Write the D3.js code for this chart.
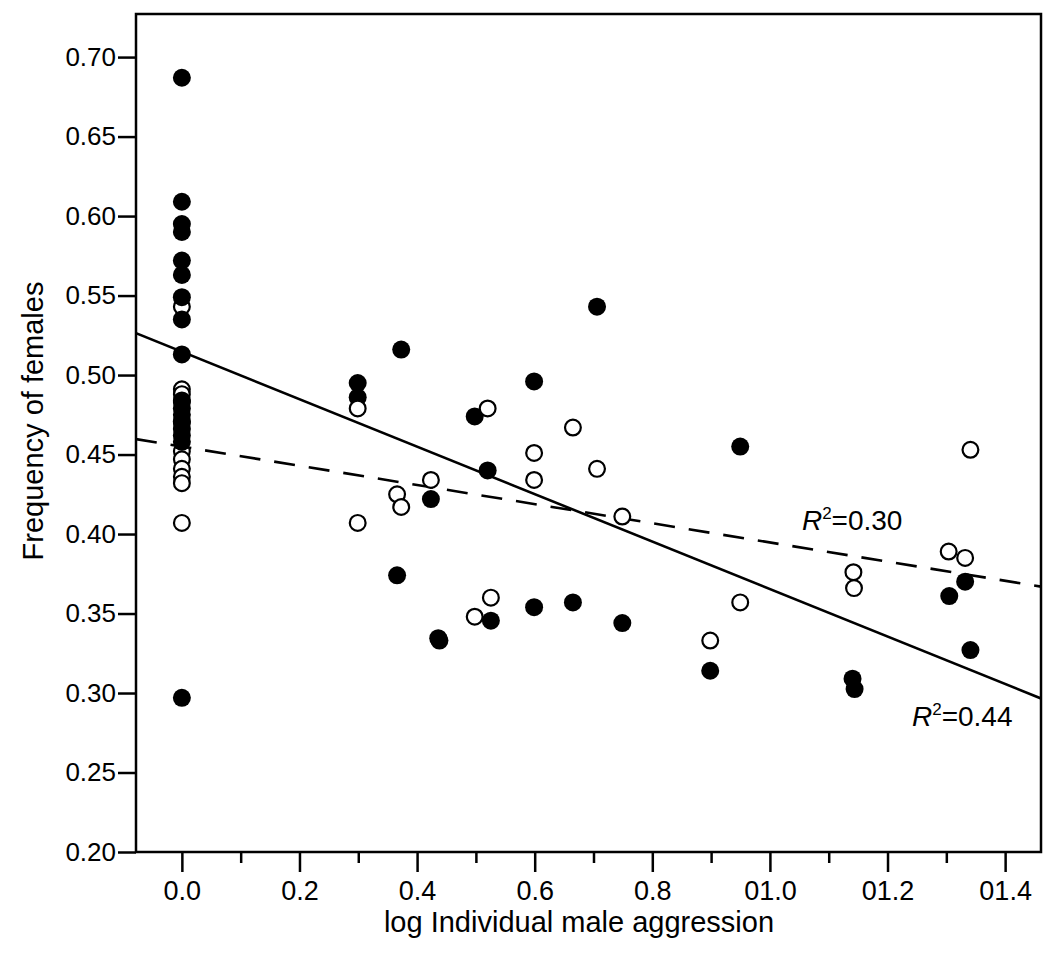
<!DOCTYPE html>
<html>
<head>
<meta charset="utf-8">
<script src="https://cdn.jsdelivr.net/npm/d3@7/dist/d3.min.js"></script>
<style>
  html, body { margin: 0; padding: 0; background: #fff; }
  svg { display: block; font-family: "Liberation Sans", Arial, sans-serif; }
</style>
</head>
<body>
<svg id="chart" width="1050" height="955"></svg>
<script>
// ---- data ----
const filledX = [0,0,0,0,0,0,0,0,0,0,0,0,0,0,0,0,0,
  0.299,0.299,0.373,0.366,0.4235,0.436,0.438,0.498,0.520,0.5255,0.599,0.599,0.665,0.706,0.749,0.8985,0.9495,1.1405,1.144,1.305,1.332,1.341];
const filledY = [0.687,0.609,0.595,0.590,0.572,0.563,0.549,0.535,0.513,0.483,0.479,0.475,0.471,0.466,0.462,0.458,0.297,
  0.495,0.486,0.516,0.374,0.422,0.3345,0.333,0.474,0.440,0.3455,0.496,0.354,0.357,0.543,0.344,0.314,0.455,0.309,0.3025,0.361,0.370,0.327];
const openX = [0,0,0,0,0,0,0,0,0,0,0,
  0.299,0.299,0.366,0.373,0.4235,0.498,0.520,0.5255,0.599,0.599,0.665,0.706,0.749,0.8985,0.9495,1.142,1.143,1.304,1.332,1.341];
const openY = [0.543,0.491,0.488,0.484,0.470,0.452,0.447,0.441,0.436,0.432,0.407,
  0.479,0.407,0.425,0.417,0.434,0.348,0.479,0.360,0.451,0.434,0.467,0.441,0.411,0.333,0.357,0.376,0.366,0.389,0.385,0.453];
// regression lines: [intercept, slope]
const fitSolid = [0.5147, -0.1493];
const fitDashed = [0.4550, -0.0603];
const fitLabels = ["0.44", "0.30"];
const fitLabelPos = [[1.2415, 0.2792], [1.0544, 0.4025]];
const xTickValues = [0.0, 0.2, 0.4, 0.6, 0.8, 1.0, 1.2, 1.4];
const xTickLabels = ["0.0", "0.2", "0.4", "0.6", "0.8", "01.0", "01.2", "01.4"];
const xMinorTicks = [0.1, 0.3, 0.5, 0.7, 0.9, 1.1, 1.3];
const yTickValues = [0.20, 0.25, 0.30, 0.35, 0.40, 0.45, 0.50, 0.55, 0.60, 0.65, 0.70];
const xTitle = "log Individual male aggression";
const yTitle = "Frequency of females";

// ---- layout ----
const L = 136, R = 1041, T = 14, B = 852;
const svg = d3.select("#chart");
const x = d3.scaleLinear().domain([-0.078, 1.461]).range([L, R]);
const y = d3.scaleLinear().domain([0.20, 0.7271]).range([B, T]);

const defs = svg.append("defs");
defs.append("clipPath").attr("id", "plotclip")
  .append("rect").attr("x", L).attr("y", T).attr("width", R - L).attr("height", B - T);

// axes
const yAxis = svg.append("g").attr("transform", `translate(${L},0)`)
  .call(d3.axisLeft(y).tickValues(yTickValues).tickSize(18).tickPadding(2).tickFormat(d3.format(".2f")));
yAxis.select(".domain").remove();
yAxis.selectAll(".tick line").attr("stroke", "#000").attr("stroke-width", 2.5);
yAxis.selectAll(".tick text").attr("font-size", 26).attr("fill", "#000")
  .attr("font-family", "Liberation Sans, Arial, sans-serif");

const xAxis = svg.append("g").attr("transform", `translate(0,${B})`)
  .call(d3.axisBottom(x).tickValues(xTickValues).tickSize(20).tickPadding(9)
    .tickFormat((d, i) => xTickLabels[i]));
xAxis.select(".domain").remove();
xAxis.selectAll(".tick line").attr("stroke", "#000").attr("stroke-width", 2.5);
xAxis.selectAll(".tick text").attr("font-size", 27).attr("fill", "#000")
  .attr("font-family", "Liberation Sans, Arial, sans-serif");

const xMinor = svg.append("g").attr("transform", `translate(0,${B})`)
  .call(d3.axisBottom(x).tickValues(xMinorTicks).tickSize(11).tickFormat(""));
xMinor.select(".domain").remove();
xMinor.selectAll(".tick line").attr("stroke", "#000").attr("stroke-width", 2.5);

// frame
svg.append("rect").attr("x", L).attr("y", T).attr("width", R - L).attr("height", B - T)
  .attr("fill", "none").attr("stroke", "#000").attr("stroke-width", 2.5);

// fit lines
const plot = svg.append("g").attr("clip-path", "url(#plotclip)");
const [x0, x1] = x.domain();
function fitLine(f, dash) {
  plot.append("line")
    .attr("x1", x(x0)).attr("y1", y(f[0] + f[1] * x0))
    .attr("x2", x(x1)).attr("y2", y(f[0] + f[1] * x1))
    .attr("stroke", "#000").attr("stroke-width", 2.6)
    .attr("stroke-dasharray", dash ? "21,14" : null);
}
fitLine(fitSolid, false);
fitLine(fitDashed, true);

// points
const openPts = openX.map((v, i) => ({ x: v, y: openY[i] }));
const filledPts = filledX.map((v, i) => ({ x: v, y: filledY[i] }));
const pts = svg.append("g");
pts.selectAll("circle.o0").data(openPts.filter(d => d.x === 0)).join("circle")
  .attr("cx", d => x(d.x)).attr("cy", d => y(d.y)).attr("r", 7.9)
  .attr("fill", "#fff").attr("stroke", "#000").attr("stroke-width", 2.2);
pts.selectAll("circle.f").data(filledPts).join("circle").attr("class", "f")
  .attr("cx", d => x(d.x)).attr("cy", d => y(d.y)).attr("r", 9)
  .attr("fill", "#000");
pts.selectAll("circle.o1").data(openPts.filter(d => d.x !== 0)).join("circle").attr("class", "o1")
  .attr("cx", d => x(d.x)).attr("cy", d => y(d.y)).attr("r", 7.9)
  .attr("fill", "#fff").attr("stroke", "#000").attr("stroke-width", 2.2);

// R² labels
fitLabels.forEach((lab, i) => {
  const t = svg.append("text")
    .attr("x", x(fitLabelPos[i][0])).attr("y", y(fitLabelPos[i][1]))
    .attr("font-size", 28).attr("fill", "#000");
  t.append("tspan").attr("font-style", "italic").text("R");
  t.append("tspan").attr("font-size", 17).attr("dy", -11).text("2");
  t.append("tspan").attr("dy", 11).text("=" + lab);
});

// titles
svg.append("text").attr("x", 579).attr("y", 932)
  .attr("text-anchor", "middle").attr("font-size", 29).attr("fill", "#000")
  .text(xTitle);
svg.append("text").attr("transform", "translate(43,421) rotate(-90)")
  .attr("text-anchor", "middle").attr("font-size", 29).attr("fill", "#000")
  .text(yTitle);
</script>
</body>
</html>
